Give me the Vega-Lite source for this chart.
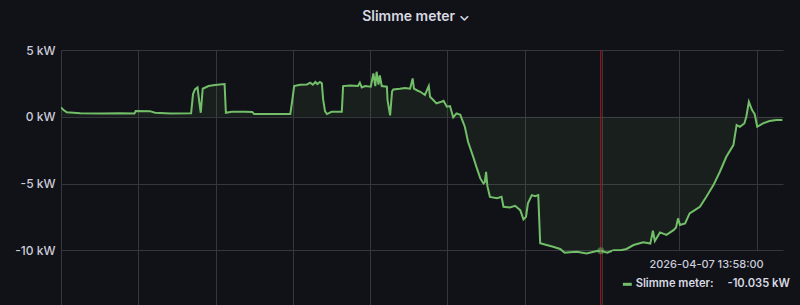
{
  "$schema": "https://vega.github.io/schema/vega-lite/v6.json",
  "width": 722,
  "height": 255,
  "autosize": "none",
  "padding": {"left": 61, "top": 50, "right": 17, "bottom": 0},
  "background": "#111217",
  "title": {
    "text": "Slimme meter ⌄",
    "anchor": "middle",
    "frame": "group",
    "font": "Inter",
    "fontSize": 14,
    "fontWeight": 600,
    "color": "#d8d9e3",
    "offset": 20,
    "dx": -6
  },
  "config": {
    "view": {"stroke": null},
    "axis": {
      "gridColor": "#36373d",
      "gridWidth": 1,
      "domain": false,
      "ticks": false,
      "labelFont": "Inter",
      "labelFontSize": 12,
      "labelFontWeight": 500,
      "labelColor": "#ccccdc"
    }
  },
  "datasets": {
    "meter": [
      {"t": "2026-04-07T00:00:00", "kw": 0.70},
      {"t": "2026-04-07T00:04:00", "kw": 0.50},
      {"t": "2026-04-07T00:09:00", "kw": 0.33},
      {"t": "2026-04-07T00:30:00", "kw": 0.27},
      {"t": "2026-04-07T01:01:00", "kw": 0.25},
      {"t": "2026-04-07T01:32:00", "kw": 0.27},
      {"t": "2026-04-07T01:54:00", "kw": 0.25},
      {"t": "2026-04-07T01:56:00", "kw": 0.43},
      {"t": "2026-04-07T02:18:00", "kw": 0.42},
      {"t": "2026-04-07T02:26:00", "kw": 0.30},
      {"t": "2026-04-07T02:50:00", "kw": 0.25},
      {"t": "2026-04-07T03:22:00", "kw": 0.27},
      {"t": "2026-04-07T03:25:00", "kw": 1.70},
      {"t": "2026-04-07T03:28:00", "kw": 2.05},
      {"t": "2026-04-07T03:32:00", "kw": 2.20},
      {"t": "2026-04-07T03:35:00", "kw": 1.00},
      {"t": "2026-04-07T03:37:00", "kw": 0.30},
      {"t": "2026-04-07T03:40:00", "kw": 2.10},
      {"t": "2026-04-07T03:49:00", "kw": 2.30},
      {"t": "2026-04-07T03:59:00", "kw": 2.38},
      {"t": "2026-04-07T04:14:00", "kw": 2.45},
      {"t": "2026-04-07T04:16:00", "kw": 0.30},
      {"t": "2026-04-07T04:25:00", "kw": 0.37},
      {"t": "2026-04-07T04:46:00", "kw": 0.37},
      {"t": "2026-04-07T04:57:00", "kw": 0.35},
      {"t": "2026-04-07T05:00:00", "kw": 0.20},
      {"t": "2026-04-07T05:24:00", "kw": 0.20},
      {"t": "2026-04-07T05:56:00", "kw": 0.20},
      {"t": "2026-04-07T05:59:00", "kw": 1.20},
      {"t": "2026-04-07T06:02:00", "kw": 2.30},
      {"t": "2026-04-07T06:11:00", "kw": 2.40},
      {"t": "2026-04-07T06:22:00", "kw": 2.42},
      {"t": "2026-04-07T06:27:00", "kw": 2.55},
      {"t": "2026-04-07T06:31:00", "kw": 2.40},
      {"t": "2026-04-07T06:35:00", "kw": 2.60},
      {"t": "2026-04-07T06:38:00", "kw": 2.45},
      {"t": "2026-04-07T06:42:00", "kw": 2.60},
      {"t": "2026-04-07T06:45:00", "kw": 2.50},
      {"t": "2026-04-07T06:47:00", "kw": 1.30},
      {"t": "2026-04-07T06:50:00", "kw": 0.40},
      {"t": "2026-04-07T06:53:00", "kw": 0.20},
      {"t": "2026-04-07T07:00:00", "kw": 0.37},
      {"t": "2026-04-07T07:16:00", "kw": 0.37},
      {"t": "2026-04-07T07:18:00", "kw": 2.30},
      {"t": "2026-04-07T07:29:00", "kw": 2.35},
      {"t": "2026-04-07T07:41:00", "kw": 2.30},
      {"t": "2026-04-07T07:44:00", "kw": 2.55},
      {"t": "2026-04-07T07:47:00", "kw": 2.20},
      {"t": "2026-04-07T07:52:00", "kw": 2.30},
      {"t": "2026-04-07T08:01:00", "kw": 2.25},
      {"t": "2026-04-07T08:05:00", "kw": 3.25},
      {"t": "2026-04-07T08:08:00", "kw": 2.30},
      {"t": "2026-04-07T08:10:00", "kw": 3.37},
      {"t": "2026-04-07T08:13:00", "kw": 2.40},
      {"t": "2026-04-07T08:15:00", "kw": 3.10},
      {"t": "2026-04-07T08:18:00", "kw": 2.30},
      {"t": "2026-04-07T08:26:00", "kw": 2.25},
      {"t": "2026-04-07T08:27:00", "kw": 1.25},
      {"t": "2026-04-07T08:31:00", "kw": 0.10},
      {"t": "2026-04-07T08:34:00", "kw": 1.90},
      {"t": "2026-04-07T08:36:00", "kw": 2.05},
      {"t": "2026-04-07T08:46:00", "kw": 2.10},
      {"t": "2026-04-07T08:54:00", "kw": 2.15},
      {"t": "2026-04-07T09:02:00", "kw": 2.10},
      {"t": "2026-04-07T09:06:00", "kw": 2.87},
      {"t": "2026-04-07T09:08:00", "kw": 2.10},
      {"t": "2026-04-07T09:14:00", "kw": 1.95},
      {"t": "2026-04-07T09:18:00", "kw": 1.87},
      {"t": "2026-04-07T09:25:00", "kw": 1.63},
      {"t": "2026-04-07T09:31:00", "kw": 2.30},
      {"t": "2026-04-07T09:33:00", "kw": 1.50},
      {"t": "2026-04-07T09:38:00", "kw": 1.25},
      {"t": "2026-04-07T09:43:00", "kw": 1.00},
      {"t": "2026-04-07T09:49:00", "kw": 1.10},
      {"t": "2026-04-07T09:54:00", "kw": 1.20},
      {"t": "2026-04-07T09:59:00", "kw": 0.75},
      {"t": "2026-04-07T10:04:00", "kw": 0.80},
      {"t": "2026-04-07T10:09:00", "kw": -0.05},
      {"t": "2026-04-07T10:14:00", "kw": 0.25},
      {"t": "2026-04-07T10:20:00", "kw": 0.15},
      {"t": "2026-04-07T10:22:00", "kw": -0.12},
      {"t": "2026-04-07T10:27:00", "kw": -0.75},
      {"t": "2026-04-07T10:32:00", "kw": -1.87},
      {"t": "2026-04-07T10:40:00", "kw": -3.00},
      {"t": "2026-04-07T10:45:00", "kw": -3.75},
      {"t": "2026-04-07T10:51:00", "kw": -4.62},
      {"t": "2026-04-07T10:56:00", "kw": -5.00},
      {"t": "2026-04-07T10:58:00", "kw": -4.90},
      {"t": "2026-04-07T11:00:00", "kw": -4.12},
      {"t": "2026-04-07T11:02:00", "kw": -5.20},
      {"t": "2026-04-07T11:06:00", "kw": -6.00},
      {"t": "2026-04-07T11:17:00", "kw": -6.10},
      {"t": "2026-04-07T11:24:00", "kw": -6.00},
      {"t": "2026-04-07T11:27:00", "kw": -6.74},
      {"t": "2026-04-07T11:37:00", "kw": -6.80},
      {"t": "2026-04-07T11:45:00", "kw": -6.67},
      {"t": "2026-04-07T11:53:00", "kw": -7.00},
      {"t": "2026-04-07T11:58:00", "kw": -7.69},
      {"t": "2026-04-07T12:02:00", "kw": -7.50},
      {"t": "2026-04-07T12:05:00", "kw": -6.49},
      {"t": "2026-04-07T12:11:00", "kw": -5.87},
      {"t": "2026-04-07T12:16:00", "kw": -5.95},
      {"t": "2026-04-07T12:21:00", "kw": -5.87},
      {"t": "2026-04-07T12:24:00", "kw": -9.48},
      {"t": "2026-04-07T12:34:00", "kw": -9.60},
      {"t": "2026-04-07T12:44:00", "kw": -9.74},
      {"t": "2026-04-07T12:55:00", "kw": -9.90},
      {"t": "2026-04-07T13:02:00", "kw": -10.19},
      {"t": "2026-04-07T13:10:00", "kw": -10.15},
      {"t": "2026-04-07T13:21:00", "kw": -10.12},
      {"t": "2026-04-07T13:36:00", "kw": -10.24},
      {"t": "2026-04-07T13:52:00", "kw": -10.05},
      {"t": "2026-04-07T13:58:00", "kw": -10.035},
      {"t": "2026-04-07T14:08:00", "kw": -10.19},
      {"t": "2026-04-07T14:18:00", "kw": -10.00},
      {"t": "2026-04-07T14:29:00", "kw": -9.99},
      {"t": "2026-04-07T14:38:00", "kw": -9.90},
      {"t": "2026-04-07T14:49:00", "kw": -9.61},
      {"t": "2026-04-07T15:04:00", "kw": -9.41},
      {"t": "2026-04-07T15:15:00", "kw": -9.50},
      {"t": "2026-04-07T15:19:00", "kw": -8.54},
      {"t": "2026-04-07T15:22:00", "kw": -9.30},
      {"t": "2026-04-07T15:30:00", "kw": -8.66},
      {"t": "2026-04-07T15:40:00", "kw": -8.85},
      {"t": "2026-04-07T15:51:00", "kw": -8.49},
      {"t": "2026-04-07T15:55:00", "kw": -8.30},
      {"t": "2026-04-07T15:58:00", "kw": -7.61},
      {"t": "2026-04-07T16:01:00", "kw": -8.10},
      {"t": "2026-04-07T16:09:00", "kw": -7.99},
      {"t": "2026-04-07T16:16:00", "kw": -7.24},
      {"t": "2026-04-07T16:24:00", "kw": -6.99},
      {"t": "2026-04-07T16:32:00", "kw": -6.74},
      {"t": "2026-04-07T16:42:00", "kw": -5.99},
      {"t": "2026-04-07T16:53:00", "kw": -5.12},
      {"t": "2026-04-07T17:03:00", "kw": -4.12},
      {"t": "2026-04-07T17:13:00", "kw": -3.00},
      {"t": "2026-04-07T17:24:00", "kw": -2.12},
      {"t": "2026-04-07T17:26:00", "kw": -1.50},
      {"t": "2026-04-07T17:29:00", "kw": -0.62},
      {"t": "2026-04-07T17:34:00", "kw": -0.75},
      {"t": "2026-04-07T17:41:00", "kw": -0.50},
      {"t": "2026-04-07T17:44:00", "kw": 0.00},
      {"t": "2026-04-07T17:48:00", "kw": 1.12},
      {"t": "2026-04-07T17:53:00", "kw": 0.50},
      {"t": "2026-04-07T17:57:00", "kw": 0.20},
      {"t": "2026-04-07T18:01:00", "kw": -0.75},
      {"t": "2026-04-07T18:10:00", "kw": -0.50},
      {"t": "2026-04-07T18:20:00", "kw": -0.32},
      {"t": "2026-04-07T18:31:00", "kw": -0.25},
      {"t": "2026-04-07T18:40:00", "kw": -0.25}
    ],
    "hover": [
      {"t": "2026-04-07T13:58:00", "kw": -10.035}
    ]
  },
  "layer": [
    {
      "data": {"name": "meter"},
      "mark": {"type": "area", "color": "#73BF69", "fillOpacity": 0.08, "clip": true},
      "encoding": {
        "x": {
          "field": "t",
          "type": "temporal",
          "title": null,
          "scale": {
            "domain": [
              {"year": 2026, "month": 4, "date": 7, "hours": 0, "minutes": 0},
              {"year": 2026, "month": 4, "date": 7, "hours": 18, "minutes": 41}
            ],
            "nice": false
          },
          "axis": {
            "labels": false,
            "grid": true,
            "values": [
              {"year": 2026, "month": 4, "date": 7, "hours": 0},
              {"year": 2026, "month": 4, "date": 7, "hours": 2},
              {"year": 2026, "month": 4, "date": 7, "hours": 4},
              {"year": 2026, "month": 4, "date": 7, "hours": 6},
              {"year": 2026, "month": 4, "date": 7, "hours": 8},
              {"year": 2026, "month": 4, "date": 7, "hours": 10},
              {"year": 2026, "month": 4, "date": 7, "hours": 12},
              {"year": 2026, "month": 4, "date": 7, "hours": 14},
              {"year": 2026, "month": 4, "date": 7, "hours": 16},
              {"year": 2026, "month": 4, "date": 7, "hours": 18}
            ]
          }
        },
        "y": {
          "field": "kw",
          "type": "quantitative",
          "title": null,
          "scale": {"domain": [-14.1, 5], "nice": false, "zero": false},
          "axis": {"values": [-10, -5, 0, 5], "labelExpr": "datum.value + ' kW'", "labelPadding": 6}
        },
        "y2": {"datum": 0}
      }
    },
    {
      "data": {"name": "meter"},
      "mark": {"type": "line", "color": "#73BF69", "strokeWidth": 2, "clip": true},
      "encoding": {
        "x": {"field": "t", "type": "temporal"},
        "y": {"field": "kw", "type": "quantitative"}
      }
    },
    {
      "data": {"name": "hover"},
      "mark": {"type": "rule", "color": "#b3141c", "strokeWidth": 1},
      "encoding": {
        "x": {"field": "t", "type": "temporal"}
      }
    },
    {
      "data": {"name": "hover"},
      "mark": {"type": "point", "filled": true, "color": "#73BF69", "opacity": 0.45, "size": 50},
      "encoding": {
        "x": {"field": "t", "type": "temporal"},
        "y": {"field": "kw", "type": "quantitative"}
      }
    },
    {
      "data": {"name": "hover"},
      "mark": {"type": "rect", "color": "#111217"},
      "encoding": {
        "x": {"datum": {"year": 2026, "month": 4, "date": 7, "hours": 14, "minutes": 15, "seconds": 40}, "type": "temporal"},
        "x2": {"datum": {"year": 2026, "month": 4, "date": 7, "hours": 19, "minutes": 20}},
        "y": {"datum": -10.08, "type": "quantitative"},
        "y2": {"datum": -15}
      }
    },
    {
      "data": {"name": "hover"},
      "mark": {"type": "text", "font": "Inter", "fontSize": 11, "fontWeight": 500, "color": "#ccccdc", "align": "center", "baseline": "middle"},
      "encoding": {
        "x": {"datum": {"year": 2026, "month": 4, "date": 7, "hours": 16, "minutes": 42, "seconds": 18}, "type": "temporal"},
        "y": {"datum": -11.11, "type": "quantitative"},
        "text": {"value": "2026-04-07 13:58:00"}
      }
    },
    {
      "data": {"name": "hover"},
      "mark": {"type": "rule", "color": "#73BF69", "strokeWidth": 3},
      "encoding": {
        "x": {"datum": {"year": 2026, "month": 4, "date": 7, "hours": 14, "minutes": 32, "seconds": 24}, "type": "temporal"},
        "x2": {"datum": {"year": 2026, "month": 4, "date": 7, "hours": 14, "minutes": 46, "seconds": 12}},
        "y": {"datum": -12.55, "type": "quantitative"}
      }
    },
    {
      "data": {"name": "hover"},
      "mark": {"type": "text", "font": "Inter", "fontSize": 11.2, "fontWeight": 600, "color": "#d8d9e3", "align": "left", "baseline": "middle"},
      "encoding": {
        "x": {"datum": {"year": 2026, "month": 4, "date": 7, "hours": 14, "minutes": 52, "seconds": 12}, "type": "temporal"},
        "y": {"datum": -12.55, "type": "quantitative"},
        "text": {"value": "Slimme meter:"}
      }
    },
    {
      "data": {"name": "hover"},
      "mark": {"type": "text", "font": "Inter", "fontSize": 11.2, "fontWeight": 600, "color": "#d8d9e3", "align": "right", "baseline": "middle"},
      "encoding": {
        "x": {"datum": {"year": 2026, "month": 4, "date": 7, "hours": 18, "minutes": 51, "seconds": 36}, "type": "temporal"},
        "y": {"datum": -12.55, "type": "quantitative"},
        "text": {"value": "-10.035 kW"}
      }
    }
  ]
}
